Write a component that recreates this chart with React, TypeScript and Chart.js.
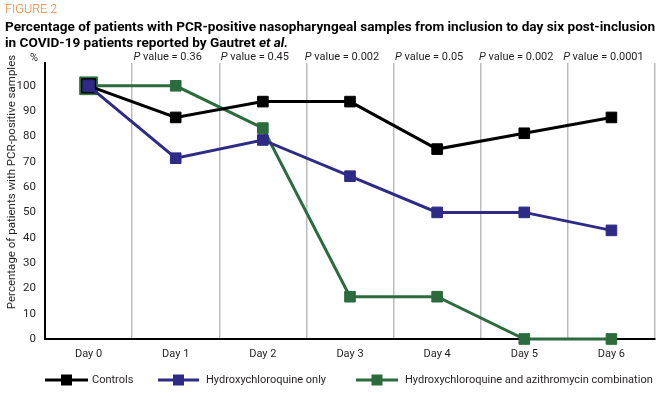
import React, { useEffect, useRef } from "react";
import { Chart, registerables } from "chart.js";

Chart.register(...registerables);

const categories = ["Day 0", "Day 1", "Day 2", "Day 3", "Day 4", "Day 5", "Day 6"];
const controls = [100, 87.5, 93.75, 93.75, 75, 81.25, 87.5];
const hcqOnly = [100, 71.4, 78.6, 64.3, 50, 50, 42.9];
const combination = [100, 100, 83.3, 16.7, 16.7, 0, 0];
const pValues = ["", "0.36", "0.45", "0.002", "0.05", "0.002", "0.0001"];
const seriesNames = ["Controls", "Hydroxychloroquine only", "Hydroxychloroquine and azithromycin combination"];

const BLACK = "#000000";
const BLUE = "#2e2a86";
const GREEN = "#2b6b3d";
const TEXT = "#231f20";
const FONT = "Roboto, 'Liberation Sans', sans-serif";

const decorPlugin = {
  id: "decor",
  afterDraw(chart: any) {
    const ctx = chart.ctx as CanvasRenderingContext2D;
    const x = chart.scales.x;
    ctx.save();
    // Header
    ctx.fillStyle = "#e8823a";
    ctx.font = `300 12.5px ${FONT}`;
    ctx.textBaseline = "alphabetic";
    ctx.textAlign = "left";
    ctx.fillText("FIGURE 2", 5, 13);

    const line1 = "Percentage of patients with PCR-positive nasopharyngeal samples from inclusion to day six post-inclusion";
    ctx.font = `bold 12.5px ${FONT}`;
    const w1 = ctx.measureText(line1).width;
    const s = 650 / w1;
    ctx.fillStyle = "#000";
    ctx.save();
    ctx.translate(5, 31);
    ctx.scale(s, 1);
    ctx.fillText(line1, 0, 0);
    const part = "in COVID-19 patients reported by Gautret ";
    ctx.translate(0, 16);
    ctx.fillText(part, 0, 0);
    const pw = ctx.measureText(part).width;
    ctx.font = `italic bold 12.5px ${FONT}`;
    ctx.fillText("et al.", pw, 0);
    ctx.restore();

    // P values
    ctx.fillStyle = TEXT;
    ctx.textBaseline = "alphabetic";
    for (let i = 0; i < pValues.length; i++) {
      if (!pValues[i]) continue;
      const cx = x.getPixelForValue(i) - 8;
      ctx.font = `italic 11px ${FONT}`;
      const a = "P";
      const aw = ctx.measureText(a).width;
      ctx.font = `11px ${FONT}`;
      const b = " value = " + pValues[i];
      const bw = ctx.measureText(b).width;
      const start = cx - (aw + bw) / 2;
      ctx.font = `italic 11px ${FONT}`;
      ctx.textAlign = "left";
      ctx.fillText(a, start, 60);
      ctx.font = `11px ${FONT}`;
      ctx.fillText(b, start + aw, 60);
    }
    // % label
    ctx.font = `11px ${FONT}`;
    ctx.textAlign = "right";
    ctx.fillText("%", 38, 61);

    // Y title
    ctx.save();
    ctx.translate(12, 182);
    ctx.rotate(-Math.PI / 2);
    ctx.textAlign = "center";
    ctx.textBaseline = "middle";
    ctx.font = `11.5px ${FONT}`;
    ctx.fillText("Percentage of patients with PCR-positive samples", 0, 0);
    ctx.restore();

    // Legend
    const colors = [BLACK, BLUE, GREEN];
    const items = [
      { x0: 45, x1: 88, tx: 92 },
      { x0: 158, x1: 199, tx: 206 },
      { x0: 356, x1: 398, tx: 405 },
    ];
    const ly = 380;
    items.forEach((it, i) => {
      ctx.strokeStyle = colors[i];
      ctx.lineWidth = 3;
      ctx.beginPath();
      ctx.moveTo(it.x0, ly);
      ctx.lineTo(it.x1, ly);
      ctx.stroke();
      ctx.fillStyle = colors[i];
      const mx = (it.x0 + it.x1) / 2;
      ctx.fillRect(mx - 5.5, ly - 5.5, 11, 11);
      ctx.fillStyle = TEXT;
      ctx.font = `11px ${FONT}`;
      ctx.textAlign = "left";
      ctx.textBaseline = "middle";
      ctx.fillText(seriesNames[i], it.tx, ly + 0.5);
    });
    ctx.restore();
  },
};

export default function App() {
  const ref = useRef<HTMLCanvasElement | null>(null);
  useEffect(() => {
    if (!ref.current) return;
    const mk = (label: string, data: number[], color: string, order: number, r0: number) => ({
      label,
      data,
      borderColor: color,
      backgroundColor: color,
      pointBackgroundColor: color,
      pointBorderColor: color,
      borderWidth: 3,
      pointStyle: "rect",
      pointBorderWidth: 1,
      pointRadius: (c: any) => (c.dataIndex === 0 ? r0 : 7.5),
      tension: 0,
      clip: false,
      order,
    });
    const chart = new Chart(ref.current, {
      type: "line",
      data: {
        labels: categories,
        datasets: [
          mk(seriesNames[0], controls, BLACK, 1, 10),
          mk(seriesNames[1], hcqOnly, BLUE, 0, 8),
          mk(seriesNames[2], combination, GREEN, 2, 12.5),
        ],
      },
      options: {
        animation: false,
        responsive: false,
        maintainAspectRatio: false,
        layout: { autoPadding: false, padding: { top: 63, right: 5, bottom: 35, left: 0 } },
        plugins: { legend: { display: false }, tooltip: { enabled: false } },
        scales: {
          x: {
            offset: true,
            grid: { offset: true, color: "#bdbdbd", lineWidth: 1.5, drawTicks: false },
            border: { color: "#000", width: 2 },
            ticks: { padding: 9, color: TEXT, font: { family: FONT, size: 11 } },
            afterFit: (s: any) => {
              s.height = 24;
              s.paddingLeft = 0;
              s.paddingRight = 0;
            },
          },
          y: {
            min: 0,
            max: 109,
            grid: { display: false, drawTicks: false },
            border: { color: "#000", width: 2 },
            ticks: { stepSize: 10, padding: 9, color: TEXT, font: { family: FONT, size: 11.5 } },
            afterBuildTicks: (s: any) => {
              s.ticks = s.ticks.filter((t: any) => t.value <= 100);
            },
            afterFit: (s: any) => {
              s.width = 45;
              s.paddingTop = 0;
              s.paddingBottom = 0;
            },
          },
        },
      } as any,
      plugins: [decorPlugin],
    });
    return () => chart.destroy();
  }, []);
  return (
    <div style={{ position: "absolute", left: 0, top: 0, width: 660, height: 398, background: "#fff" }}>
      <canvas ref={ref} width={660} height={398} style={{ width: 660, height: 398, display: "block" }} />
    </div>
  );
}
